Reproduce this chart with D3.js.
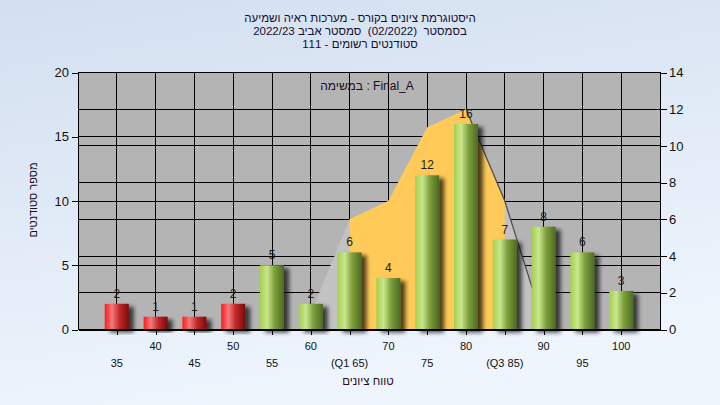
<!DOCTYPE html>
<html><head><meta charset="utf-8">
<script src="https://cdn.jsdelivr.net/npm/d3@7/dist/d3.min.js"></script>
<style>
html,body{margin:0;padding:0;background:#fff;}
svg{display:block;font-family:"Liberation Sans",Arial,sans-serif;}
text{white-space:pre;}
</style></head>
<body>
<svg id="c" width="720" height="405"></svg>
<script>
// ---- data ----
const bins = [35, 40, 45, 50, 55, 60, 65, 70, 75, 80, 85, 90, 95, 100];
const counts = [2, 1, 1, 2, 5, 2, 6, 4, 12, 16, 7, 8, 6, 3];
const binLabels = ["35","40","45","50","55","60","(Q1 65)","70","75","80","(Q3 85)","90","95","100"];
const failLimit = 55;
const curveX = [60, 65, 70, 75, 80, 85, 90];
const curveY = [0.9, 6, 7, 11, 12, 7, 0.3];
const iqrX = [65, 70, 75, 80, 85];
const iqrY = [6, 7, 11, 12, 7];
const leftTicks = [0, 5, 10, 15, 20];
const rightTicks = [0, 2, 4, 6, 8, 10, 12, 14];
const titleLines = [
  "היסטוגרמת ציונים בקורס - מערכות ראיה ושמיעה",
  "בסמסטר  (02/2022)  סמסטר אביב 2022/23",
  "סטודנטים רשומים - 111"
];
const taskLabel = "במשימה : Final_A";
const yTitle = "מספר סטודנטים";
const xTitle = "טווח ציונים";

const svg = d3.select("#c");
const L = 78, R = 660, T = 72.5, B = 329.5;
const defs = svg.append("defs");

// background
const bg = defs.append("linearGradient").attr("id","bg").attr("x1",0).attr("y1",0).attr("x2",0.3).attr("y2",1);
bg.append("stop").attr("offset",0).attr("stop-color","#d3dff0");
bg.append("stop").attr("offset",1).attr("stop-color","#eef5fd");
svg.append("rect").attr("width",720).attr("height",405).attr("fill","url(#bg)");

function barGrad(id, c0, c1, c2, c3){
  const g = defs.append("linearGradient").attr("id",id).attr("x1",0).attr("x2",1).attr("y1",0).attr("y2",0);
  g.append("stop").attr("offset",0).attr("stop-color",c0);
  g.append("stop").attr("offset",0.3).attr("stop-color",c1);
  g.append("stop").attr("offset",0.6).attr("stop-color",c2);
  g.append("stop").attr("offset",1).attr("stop-color",c3);
}
barGrad("gGreen","#a4cf4c","#c9e78e","#7fa03c","#4c6a22");
barGrad("gRed","#ff1a1a","#f27b7b","#c42a2a","#7a0a0a");
const sh = defs.append("filter").attr("id","sh").attr("x","-20%").attr("y","-20%").attr("width","160%").attr("height","140%");
sh.append("feGaussianBlur").attr("in","SourceAlpha").attr("stdDeviation",2).attr("result","b");
sh.append("feOffset").attr("in","b").attr("dx",5).attr("dy",3).attr("result","o");
sh.append("feComponentTransfer").attr("in","o").attr("result","o2").append("feFuncA").attr("type","linear").attr("slope",0.7);
const mg = sh.append("feMerge");
mg.append("feMergeNode").attr("in","o2");
mg.append("feMergeNode").attr("in","SourceGraphic");

const x = d3.scaleLinear().domain([30,105]).range([L,R]);
const yL = d3.scaleLinear().domain([0,20]).range([B,T]);
const yR = d3.scaleLinear().domain([0,14]).range([B,T]);

// plot background
svg.append("rect").attr("x",L).attr("y",T).attr("width",R-L).attr("height",B-T).attr("fill","#b4b4b4");

// grid
const grid = svg.append("g").attr("stroke","#000").attr("stroke-width",1).attr("shape-rendering","crispEdges");
grid.selectAll(".v").data(bins).join("line").attr("x1",d=>x(d)).attr("x2",d=>x(d)).attr("y1",T).attr("y2",B);
grid.selectAll(".hl").data(leftTicks.slice(1,-1)).join("line").attr("x1",L).attr("x2",R).attr("y1",d=>yL(d)).attr("y2",d=>yL(d));
grid.selectAll(".hr").data(rightTicks.slice(1,-1)).join("line").attr("x1",L).attr("x2",R).attr("y1",d=>yR(d)).attr("y2",d=>yR(d));

// areas
const curve = curveX.map((v,i)=>[v,curveY[i]]);
const iqr = iqrX.map((v,i)=>[v,iqrY[i]]);
const area = d3.area().x(d=>x(d[0])).y0(B).y1(d=>yR(d[1]));
svg.append("path").datum(curve).attr("d",area).attr("fill","#c2c2c2");
svg.append("path").datum(iqr).attr("d",area).attr("fill","#ffca57");
svg.append("path").datum(curve.filter(d=>d[0]>=80)).attr("d",d3.line().x(d=>x(d[0])).y(d=>yR(d[1])))
  .attr("fill","none").attr("stroke","#4a4a4a").attr("stroke-width",1.2);

// task label
svg.append("text").attr("x",367).attr("y",90).attr("text-anchor","middle").attr("font-size",12)
  .attr("fill","#1a0a2a").attr("direction","ltr").text(taskLabel);

// bars
const bw = 24;
const data = bins.map((b,i)=>({b, c:counts[i], lab:binLabels[i]}));
svg.append("g").selectAll("rect").data(data).join("rect")
  .attr("x",d=>x(d.b)-bw/2).attr("width",bw)
  .attr("y",d=>yL(d.c)).attr("height",d=>B-yL(d.c))
  .attr("fill",d=>d.b<failLimit?"url(#gRed)":"url(#gGreen)")
  .attr("filter","url(#sh)");

// value labels
svg.append("g").selectAll("text").data(data).join("text")
  .attr("x",d=>x(d.b)).attr("y",d=>yL(d.c)-6).attr("text-anchor","middle")
  .attr("font-size",12).attr("fill","#1c1c1c").text(d=>d.c);

// frame
svg.append("rect").attr("x",L).attr("y",T).attr("width",R-L).attr("height",B-T).attr("fill","none")
  .attr("stroke","#000").attr("stroke-width",1).attr("shape-rendering","crispEdges");

// axes
const ax = (g)=>{g.selectAll(".domain").attr("stroke","#000").attr("stroke-width",1).attr("shape-rendering","crispEdges");
  g.selectAll(".tick line").attr("stroke","#000").attr("stroke-width",1).attr("shape-rendering","crispEdges");
  g.selectAll(".tick text").attr("fill","#111").attr("font-family","'Liberation Sans',Arial,sans-serif");};
svg.append("g").attr("transform",`translate(${L},0)`)
  .call(d3.axisLeft(yL).tickValues(leftTicks).tickSize(6).tickSizeOuter(0).tickPadding(3))
  .call(ax).selectAll("text").attr("font-size",13);
svg.append("g").attr("transform",`translate(${R},0)`)
  .call(d3.axisRight(yR).tickValues(rightTicks).tickSize(7).tickSizeOuter(0).tickPadding(2))
  .call(ax).selectAll("text").attr("font-size",13);
svg.append("g").attr("transform",`translate(0,${B})`)
  .call(d3.axisBottom(x).tickValues(bins).tickSize(5).tickSizeOuter(0).tickFormat(""))
  .call(ax);

// staggered x labels
svg.append("g").selectAll("text").data(data).join("text")
  .attr("x",d=>x(d.b)).attr("y",(d,i)=> i%2===1 ? 350 : 367).attr("text-anchor","middle")
  .attr("font-size",11).attr("fill","#111").attr("direction","ltr").text(d=>d.lab);

// titles
svg.append("g").selectAll("text").data(titleLines).join("text")
  .attr("x",360).attr("y",(d,i)=>22+i*13).attr("text-anchor","middle")
  .attr("font-size",11.5).attr("fill","#101030").attr("direction","rtl").attr("unicode-bidi","plaintext").text(d=>d);

svg.append("text").attr("transform","translate(37,200) rotate(-90)").attr("text-anchor","middle")
  .attr("font-size",11).attr("fill","#1a0a1a").text(yTitle);
svg.append("text").attr("x",368).attr("y",385).attr("text-anchor","middle")
  .attr("font-size",11.5).attr("fill","#2a0a1a").text(xTitle);
</script>
</body></html>
